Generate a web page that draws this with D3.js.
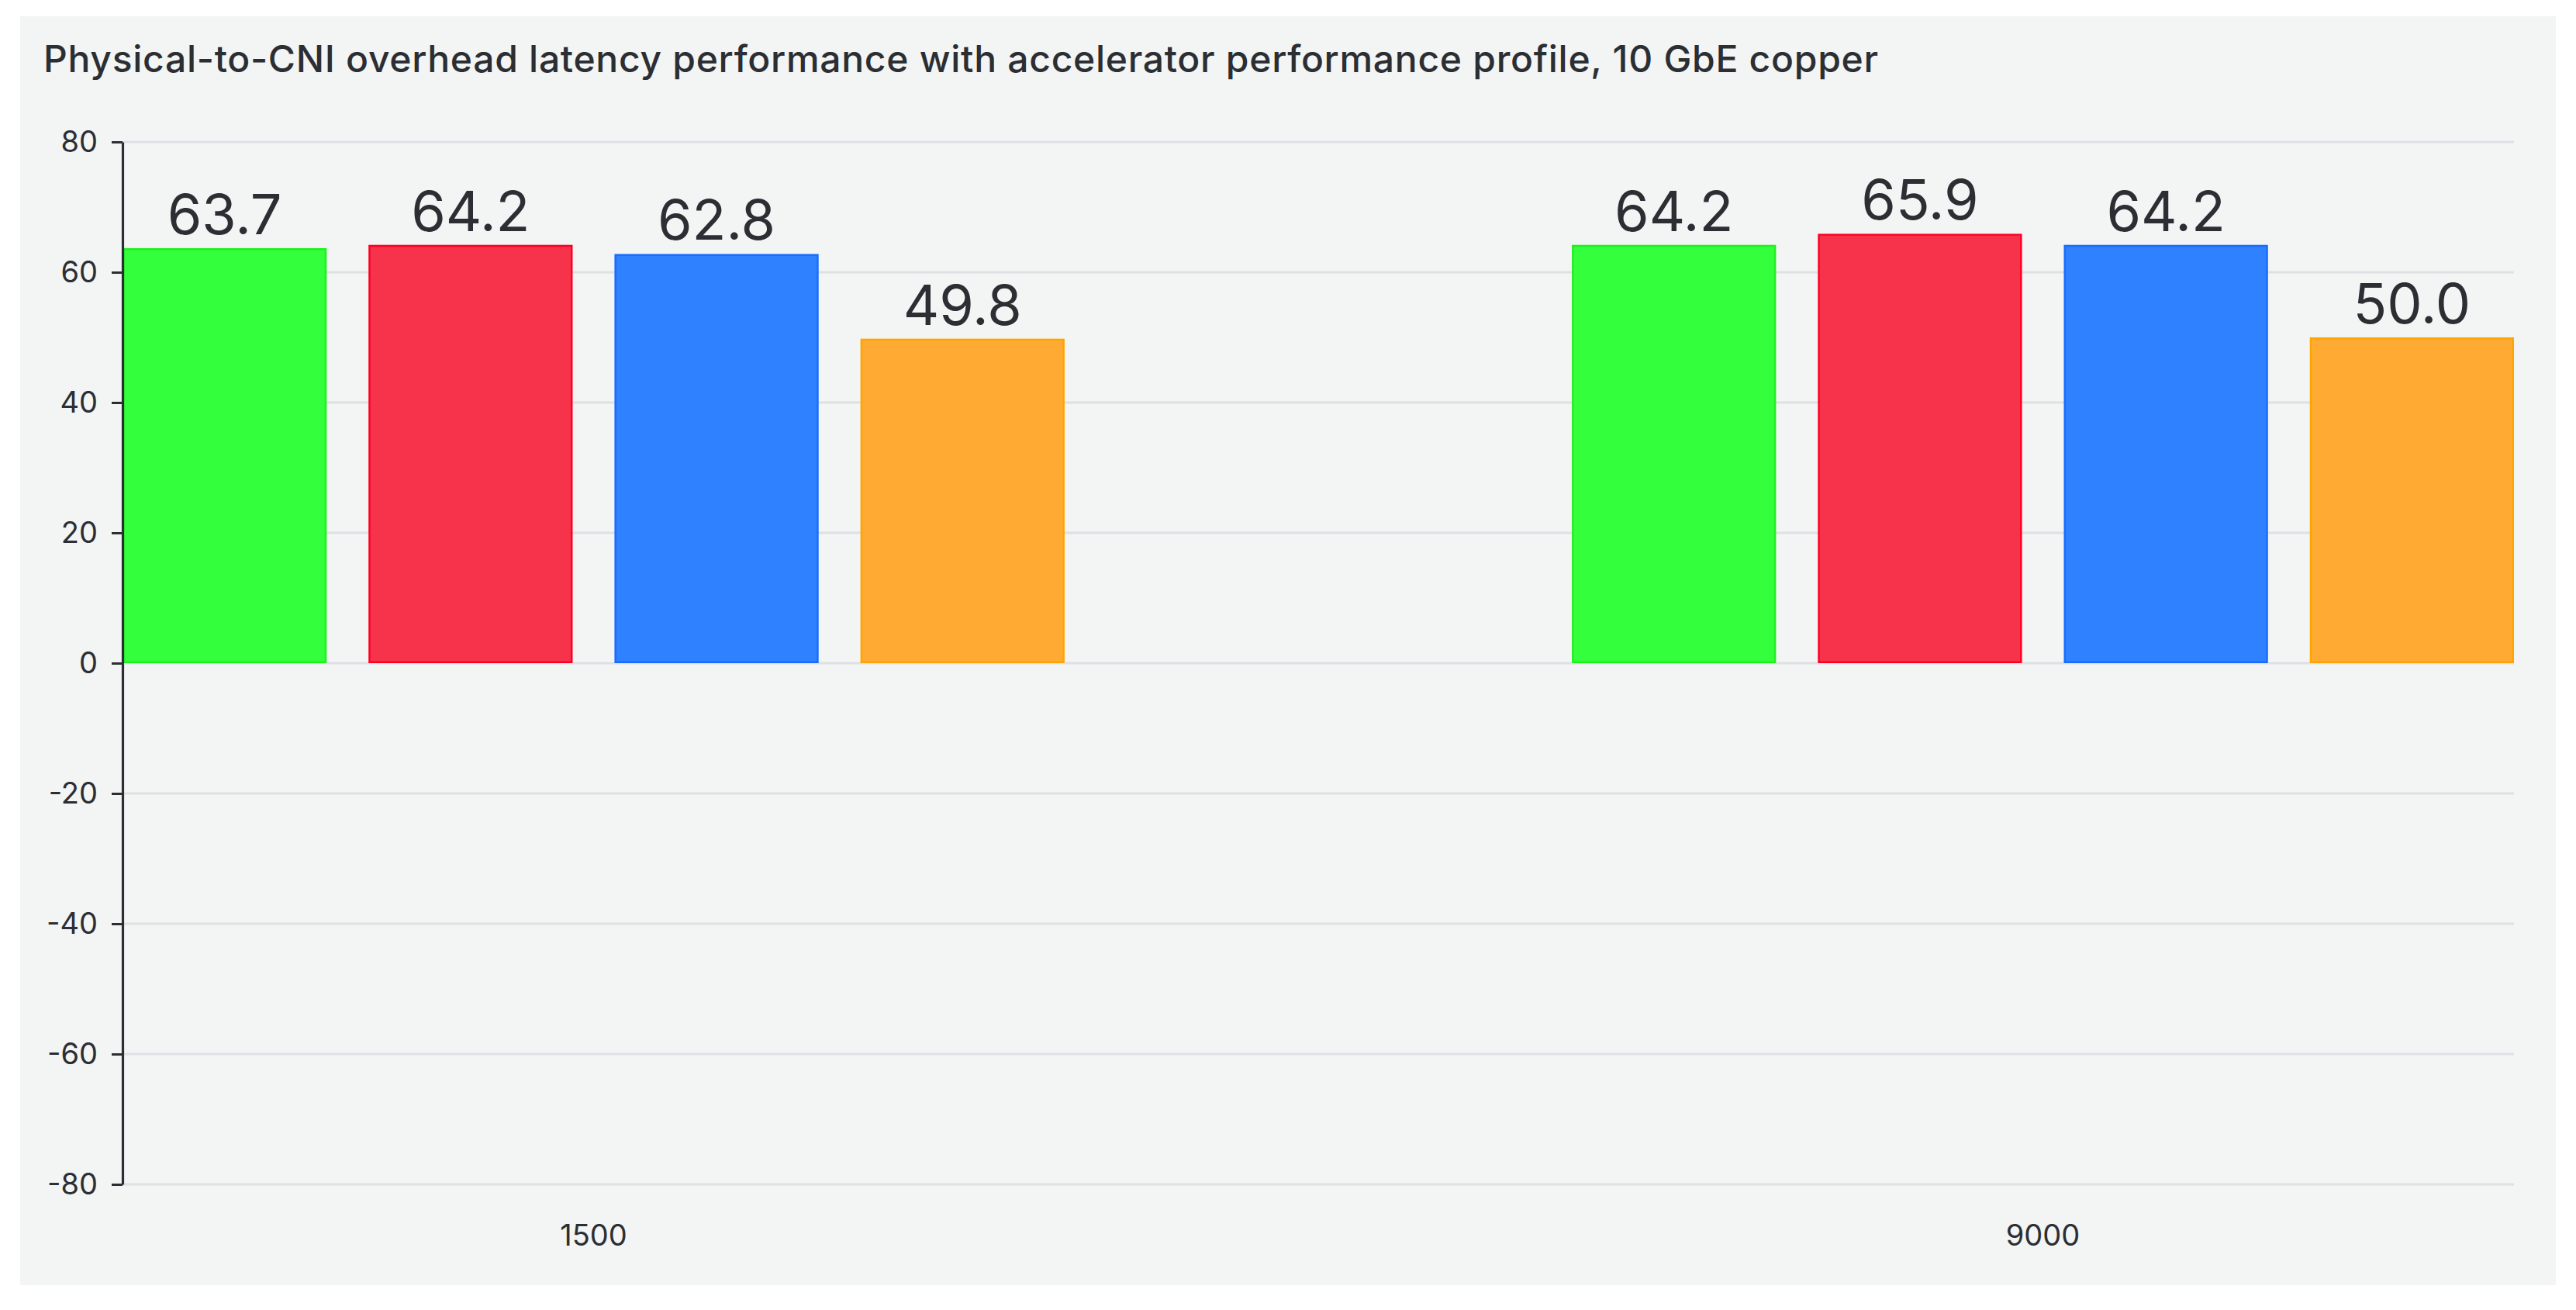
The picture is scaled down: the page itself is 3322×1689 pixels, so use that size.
<!DOCTYPE html>
<html>
<head>
<meta charset="utf-8">
<script src="https://cdn.jsdelivr.net/npm/d3@7"></script>
<style>
  html, body { margin: 0; padding: 0; background: #ffffff; }
  svg { display: block; }
  text { font-family: Inter, "Noto Sans", sans-serif; fill: #2b2e33; }
</style>
</head>
<body>
<div id="svg-container"></div>
<script>
var width = 3322;
var height = 1689;

// chart data
var title = "Physical-to-CNI overhead latency performance with accelerator performance profile, 10 GbE copper";
var categories = ["1500", "9000"];
var series = ["s1", "s2", "s3", "s4"];
var values1500 = [63.7, 64.2, 62.8, 49.8];
var values9000 = [64.2, 65.9, 64.2, 50.0];
var yTicks = [-80, -60, -40, -20, 0, 20, 40, 60, 80];

var fills = ["#33ff3d", "#f6334b", "#3081ff", "#ffab33"];
var borders = ["#1cf21c", "#ff0025", "#1a6cff", "#ffa500"];

var rows = [
  { cat: categories[0], vals: values1500 },
  { cat: categories[1], vals: values9000 }
];

var margin = { top: 183, right: 80, bottom: 162, left: 158 };

var svg = d3.select("#svg-container")
            .append("svg")
            .attr("width", width)
            .attr("height", height);

// panel background
svg.append("rect")
   .attr("x", 26)
   .attr("y", 21)
   .attr("width", 3270)
   .attr("height", 1636)
   .attr("fill", "#f3f4f4");

svg.append("text")
   .attr("x", 56)
   .attr("y", 93)
   .attr("font-size", 48)
   .attr("font-weight", 500)
   .attr("textLength", 2366)
   .attr("lengthAdjust", "spacing")
   .text(title);

var scaleX = d3.scaleBand()
               .domain(categories)
               .range([margin.left, width - margin.right])
               .paddingInner(0.35)
               .paddingOuter(0);

var scaleInner = d3.scaleBand()
                   .domain(series)
                   .range([0, scaleX.bandwidth()])
                   .paddingInner(0.17);

var scaleY = d3.scaleLinear()
               .domain([-80, 80])
               .range([height - margin.bottom, margin.top]);

// grid lines
svg.append("g")
   .selectAll("line")
   .data(yTicks)
   .enter().append("line")
   .attr("x1", margin.left)
   .attr("x2", width - margin.right)
   .attr("y1", function(d) { return scaleY(d); })
   .attr("y2", function(d) { return scaleY(d); })
   .attr("stroke", "#dfe0e3")
   .attr("stroke-width", 3);

// bars
var groups = svg.append("g")
   .selectAll("g")
   .data(rows)
   .enter().append("g")
   .attr("transform", function(d) { return "translate(" + scaleX(d.cat) + ",0)"; });

groups.selectAll("rect")
   .data(function(d) { return d.vals.map(function(v, i) { return { s: series[i], i: i, v: v }; }); })
   .enter().append("rect")
   .attr("x", function(d) { return scaleInner(d.s) + 1.25; })
   .attr("y", function(d) { return scaleY(d.v) + 1.25; })
   .attr("width", scaleInner.bandwidth() - 2.5)
   .attr("height", function(d) { return scaleY(0) - scaleY(d.v) - 2.5; })
   .attr("fill", function(d) { return fills[d.i]; })
   .attr("stroke", function(d) { return borders[d.i]; })
   .attr("stroke-width", 2.5);

groups.selectAll("text")
   .data(function(d) { return d.vals.map(function(v, i) { return { s: series[i], i: i, v: v }; }); })
   .enter().append("text")
   .attr("x", function(d) { return scaleInner(d.s) + scaleInner.bandwidth() / 2; })
   .attr("y", function(d) { return scaleY(d.v) - 18; })
   .attr("text-anchor", "middle")
   .attr("font-size", 72)
   .text(function(d) { return d.v.toFixed(1); });

// y axis
var yAxis = svg.append("g")
   .attr("transform", "translate(" + margin.left + ",0)")
   .call(d3.axisLeft(scaleY)
           .tickValues(yTicks)
           .tickFormat(function(d) { return String(d); })
           .tickSizeInner(14)
           .tickSizeOuter(0)
           .tickPadding(18));

yAxis.select(".domain").attr("stroke", "#2b2e33").attr("stroke-width", 3.2);
yAxis.selectAll(".tick line").attr("stroke", "#2b2e33").attr("stroke-width", 3);
yAxis.selectAll(".tick text")
     .attr("font-size", 38)
     .attr("font-family", "Inter, 'Noto Sans', sans-serif")
     .attr("fill", "#2b2e33");

// x labels
svg.append("g")
   .selectAll("text")
   .data(categories)
   .enter().append("text")
   .attr("x", function(d) { return scaleX(d) + scaleX.bandwidth() / 2; })
   .attr("y", 1606)
   .attr("text-anchor", "middle")
   .attr("font-size", 38)
   .text(function(d) { return d; });
</script>
</body>
</html>
